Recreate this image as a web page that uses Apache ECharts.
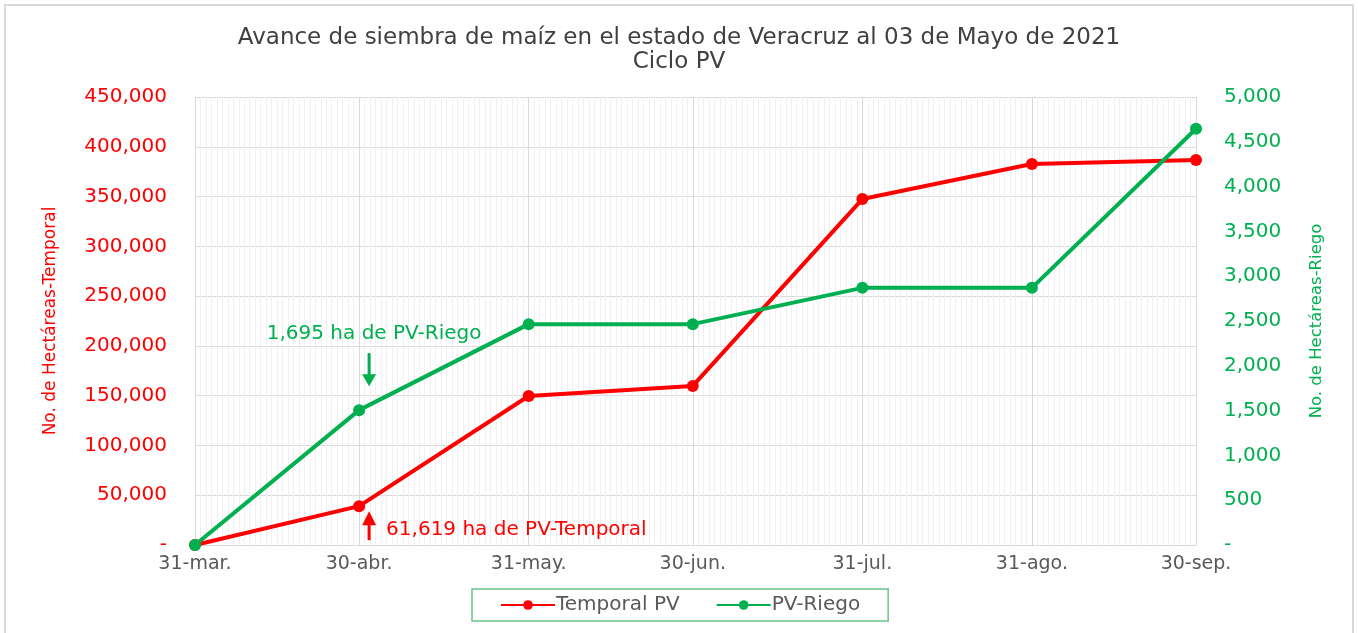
<!DOCTYPE html>
<html>
<head>
<meta charset="utf-8">
<script src="https://cdn.jsdelivr.net/npm/echarts@6/dist/echarts.min.js"></script>
<style>
  html, body { margin: 0; padding: 0; background: #fff; }
  #main { width: 1358px; height: 633px; }
</style>
</head>
<body>
<div id="main"></div>
<script>
// fechas de corte (fin de mes)
var fechas = ['31-mar.', '30-abr.', '31-may.', '30-jun.', '31-jul.', '31-ago.', '30-sep.'];
// hectáreas sembradas
var temporal = [0, 39000, 149700, 159800, 347500, 382700, 386700];
var riego = [0, 1505, 2465, 2465, 2870, 2870, 4645];
var ticksTemporal = [0, 50000, 100000, 150000, 200000, 250000, 300000, 350000, 400000, 450000];
var ticksRiego = [0, 500, 1000, 1500, 2000, 2500, 3000, 3500, 4000, 4500, 5000];

var FONT = 'DejaVu Sans';
var ROJO = '#ff0000';
var VERDE = '#00b050';

// eje diario del 31-mar al 30-sep
var meses = ['ene', 'feb', 'mar', 'abr', 'may', 'jun', 'jul', 'ago', 'sep', 'oct', 'nov', 'dic'];
var dias = [];
var d = new Date(2021, 2, 31);
var fin = new Date(2021, 8, 30);
while (d <= fin) {
    dias.push(d.getDate() + '-' + meses[d.getMonth()] + '.');
    d.setDate(d.getDate() + 1);
}
function esCorte(idx, val) {
    return fechas.indexOf(val) >= 0;
}
function fmt(v) {
    return v === 0 ? '-' : v.toLocaleString('en-US');
}

var myChart = echarts.init(document.getElementById('main'));

var option = {
    backgroundColor: '#fff',
    animation: false,
    title: {
        text: 'Avance de siembra de maíz en el estado de Veracruz al 03 de Mayo de 2021\nCiclo PV',
        left: 'center',
        top: 21,
        textStyle: {
            fontFamily: FONT, fontSize: 23, fontWeight: 'normal', color: '#404040', lineHeight: 24
        }
    },
    legend: {
        left: 472,
        top: 589,
        padding: [6, 28, 6, 28],
        itemGap: 36,
        itemWidth: 54,
        itemHeight: 12,
        borderColor: '#6cc08b',
        borderWidth: 1.5,
        textStyle: { fontFamily: FONT, fontSize: 20, color: '#595959', padding: [0, 0, 0, -4] },
        data: ['Temporal PV', 'PV-Riego']
    },
    grid: { left: 195, right: 162, top: 97, bottom: 88 },
    xAxis: [{
        type: 'category',
        data: dias,
        boundaryGap: false,
        axisLine: { lineStyle: { color: '#d9d9d9' } },
        axisTick: { show: false },
        axisLabel: {
            interval: esCorte,
            fontFamily: FONT, fontSize: 19, color: '#595959', margin: 10
        },
        splitLine: { show: true, interval: 0, lineStyle: { color: '#f0f0f0', width: 1 } }
    }, {
        type: 'category',
        data: dias,
        boundaryGap: false,
        position: 'bottom',
        axisLine: { show: false },
        axisTick: { show: false },
        axisLabel: { show: false },
        splitLine: { show: true, interval: esCorte, lineStyle: { color: '#d9d9d9', width: 1 } }
    }],
    yAxis: [{
        type: 'value',
        min: 0, max: 450000, interval: 50000,
        name: 'No. de Hectáreas-Temporal',
        nameLocation: 'middle',
        nameRotate: 90,
        nameGap: 136,
        nameTextStyle: { fontFamily: FONT, fontSize: 17, color: ROJO },
        axisLine: { show: false },
        axisTick: { show: false },
        axisLabel: {
            fontFamily: FONT, fontSize: 20, color: ROJO, margin: 28,
            formatter: function (v) { return ticksTemporal.indexOf(v) >= 0 ? fmt(v) : ''; }
        },
        splitLine: { lineStyle: { color: '#d9d9d9' } }
    }, {
        type: 'value',
        min: 0, max: 5000, interval: 500,
        name: 'No. de Hectáreas-Riego',
        nameLocation: 'middle',
        nameRotate: 90,
        nameGap: 112,
        nameTextStyle: { fontFamily: FONT, fontSize: 16.5, color: VERDE },
        axisLine: { show: false },
        axisTick: { show: false },
        axisLabel: {
            fontFamily: FONT, fontSize: 20, color: VERDE, margin: 28,
            formatter: function (v) { return ticksRiego.indexOf(v) >= 0 ? fmt(v) : ''; }
        },
        splitLine: { show: false }
    }],
    series: [{
        name: 'Temporal PV',
        type: 'line',
        yAxisIndex: 0,
        data: fechas.map(function (f, i) { return [f, temporal[i]]; }),
        color: ROJO,
        lineStyle: { width: 4 },
        symbol: 'circle',
        symbolSize: 12
    }, {
        name: 'PV-Riego',
        type: 'line',
        yAxisIndex: 1,
        data: fechas.map(function (f, i) { return [f, riego[i]]; }),
        color: VERDE,
        lineStyle: { width: 4 },
        symbol: 'circle',
        symbolSize: 12
    }]
};
myChart.setOption(option);

// anotaciones junto al punto del 30-abr.
var pR = myChart.convertToPixel({ xAxisIndex: 0, yAxisIndex: 0 }, [fechas[1], temporal[1]]);
var pV = myChart.convertToPixel({ xAxisIndex: 0, yAxisIndex: 1 }, [fechas[1], riego[1]]);
var ax = pR[0] + 10;
myChart.setOption({
    graphic: [
        {
            type: 'rect', silent: true,
            shape: { x: 5, y: 5, width: 1348, height: 640 },
            style: { fill: 'none', stroke: '#d9d9d9', lineWidth: 2 }
        },
        {
            type: 'text',
            style: {
                text: '1,695 ha de PV-Riego', x: pV[0] + 15, y: pV[1] - 76,
                align: 'center', verticalAlign: 'middle',
                font: '20px "' + FONT + '"', fill: VERDE
            }
        },
        {
            type: 'line',
            shape: { x1: ax, y1: pV[1] - 57, x2: ax, y2: pV[1] - 34 },
            style: { stroke: VERDE, lineWidth: 3 }
        },
        {
            type: 'polygon',
            shape: { points: [[ax - 7, pV[1] - 36], [ax + 7, pV[1] - 36], [ax, pV[1] - 24]] },
            style: { fill: VERDE }
        },
        {
            type: 'text',
            style: {
                text: '61,619 ha de PV-Temporal', x: ax + 17, y: pR[1] + 24,
                align: 'left', verticalAlign: 'middle',
                font: '20px "' + FONT + '"', fill: ROJO
            }
        },
        {
            type: 'line',
            shape: { x1: ax, y1: pR[1] + 34, x2: ax, y2: pR[1] + 17 },
            style: { stroke: ROJO, lineWidth: 3 }
        },
        {
            type: 'polygon',
            shape: { points: [[ax - 7, pR[1] + 19], [ax + 7, pR[1] + 19], [ax, pR[1] + 5]] },
            style: { fill: ROJO }
        }
    ]
});
</script>
</body>
</html>
